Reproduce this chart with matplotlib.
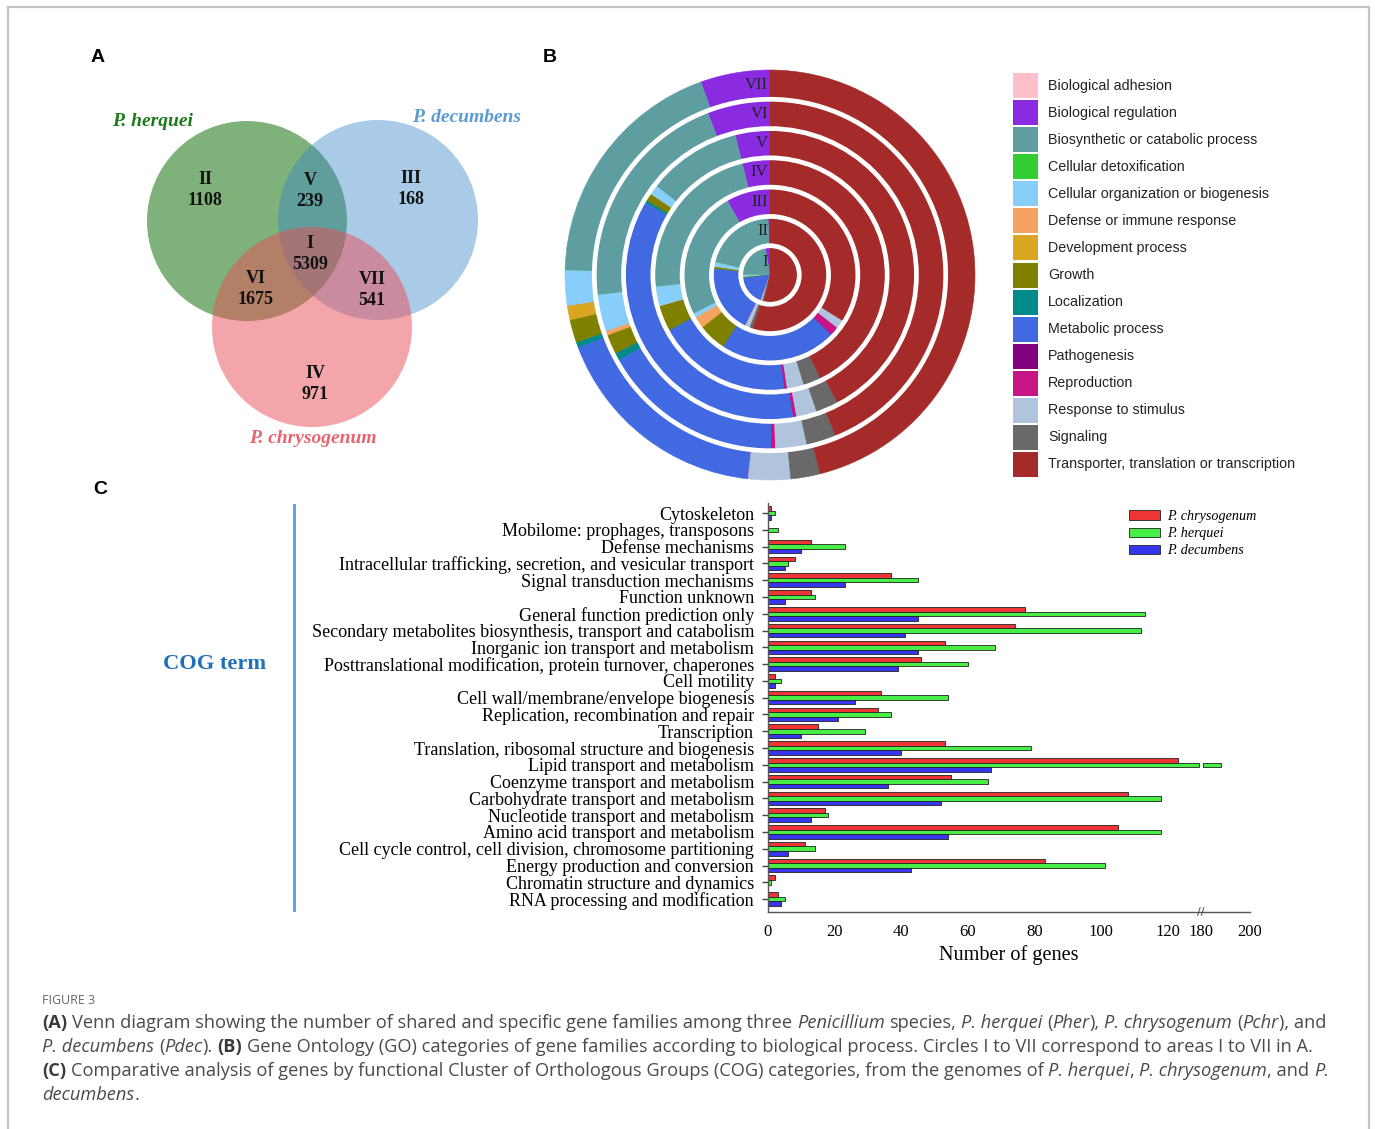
import numpy as np
import matplotlib
matplotlib.use("Agg")
import matplotlib.pyplot as plt
from matplotlib.patches import Circle, Rectangle, Patch
from matplotlib.lines import Line2D
from matplotlib.transforms import blended_transform_factory

# ---------------------------------------------------------
# data
# ---------------------------------------------------------
venn_names = ["P. herquei", "P. decumbens", "P. chrysogenum"]
region_ids = ["I", "II", "III", "IV", "V", "VI", "VII"]
region_counts = [5309, 1108, 168, 971, 239, 1675, 541]

go_terms = ["Biological adhesion", "Biological regulation", "Biosynthetic or catabolic process",
            "Cellular detoxification", "Cellular organization or biogenesis",
            "Defense or immune response", "Development process", "Growth", "Localization",
            "Metabolic process", "Pathogenesis", "Reproduction", "Response to stimulus",
            "Signaling", "Transporter, translation or transcription"]
go_colors = ["#ffc0cb", "#8a2be2", "#5f9ea0", "#32cd32", "#87cefa", "#f4a460", "#daa520",
             "#808000", "#008b8b", "#4169e1", "#800080", "#c71585", "#b0c4de", "#696969",
             "#a52a2a"]
# share of each GO term per circle (degrees of the ring), circles I..VII
ring_I = [0, 10, 80, 0, 5, 0, 0, 2, 0, 63, 0, 0, 4, 3, 193]
ring_II = [0, 2, 75, 0, 5, 0, 0, 2, 0, 70, 0, 0, 5, 3, 198]
ring_III = [0, 30, 87, 0, 3, 8, 0, 19, 0, 79, 0, 6, 6, 0, 122]
ring_IV = [0, 14, 82, 0, 10, 0, 0, 13, 0, 68.5, 0, 1.2, 8.5, 8.9, 153.9]
ring_V = [0, 14, 38, 0, 4, 0, 0, 3, 1, 129.5, 0, 1.2, 8.2, 9, 152.1]
ring_VI = [0, 21, 75.7, 0, 12.3, 1.5, 0, 6.5, 2.5, 61, 0, 1.3, 10.5, 9.9, 157.8]
ring_VII = [0, 19.7, 69, 0, 10, 0, 4, 6.5, 1.5, 63, 0, 0, 12, 8.3, 165.7]
rings = [ring_I, ring_II, ring_III, ring_IV, ring_V, ring_VI, ring_VII]

cog_terms = ["Cytoskeleton", "Mobilome: prophages, transposons", "Defense mechanisms",
             "Intracellular trafficking, secretion, and vesicular transport",
             "Signal transduction mechanisms", "Function unknown",
             "General function prediction only",
             "Secondary metabolites biosynthesis, transport and catabolism",
             "Inorganic ion transport and metabolism",
             "Posttranslational modification, protein turnover, chaperones",
             "Cell motility", "Cell wall/membrane/envelope biogenesis",
             "Replication, recombination and repair", "Transcription",
             "Translation, ribosomal structure and biogenesis",
             "Lipid transport and metabolism", "Coenzyme transport and metabolism",
             "Carbohydrate transport and metabolism", "Nucleotide transport and metabolism",
             "Amino acid transport and metabolism",
             "Cell cycle control, cell division, chromosome partitioning",
             "Energy production and conversion", "Chromatin structure and dynamics",
             "RNA processing and modification"]
chrysogenum = [1, 0, 13, 8, 37, 13, 77, 74, 53, 46, 2, 34, 33, 15, 53, 123, 55, 108, 17, 105, 11, 83, 2, 3]
herquei = [2, 3, 23, 6, 45, 14, 113, 112, 68, 60, 4, 54, 37, 29, 79, 188, 66, 118, 18, 118, 14, 101, 1, 5]
decumbens = [1, 0, 10, 5, 23, 5, 45, 41, 45, 39, 2, 26, 21, 10, 40, 67, 36, 52, 13, 54, 6, 43, 0, 4]
x_ticks = [0, 20, 40, 60, 80, 100, 120, 180, 200]

# ---------------------------------------------------------
# figure / helpers (pixel layout)
# ---------------------------------------------------------
W, H = 1375, 1129
fig = plt.figure(figsize=(W / 100, H / 100), dpi=100)
fig.patch.set_facecolor("white")
SERIF = "Liberation Serif"
SANS = "Liberation Sans"


def box(x0, y0, x1, y1):
    return [x0 / W, 1 - y1 / H, (x1 - x0) / W, (y1 - y0) / H]


def fpt(x, y):
    return x / W, 1 - y / H


# outer frame
for xs, ys in [([8, 8], [7, H]), ([8, 1369], [7, 7]), ([1369, 1369], [7, H])]:
    fig.add_artist(Line2D([v / W for v in xs], [1 - v / H for v in ys],
                          color="#c4c4c4", lw=1.6, transform=fig.transFigure))

# panel letters
for lab, (px, py) in zip("ABC", [(98, 57), (550, 57), (100, 490)]):
    fig.text(*fpt(px, py), lab, family=SANS, weight="bold", fontsize=14,
             ha="center", va="center")

# ---------------------------------------------------------
# A - Venn diagram
# ---------------------------------------------------------
axA = fig.add_axes(box(90, 90, 540, 460))
axA.set_xlim(90, 540)
axA.set_ylim(460, 90)
axA.axis("off")

circ_pos = [(247, 221), (378, 220), (312, 327)]
circ_col = [("#2a7f21", 0.6), ("#3483c8", 0.42), ("#e94d55", 0.5)]
for (cx, cy), (c, a) in zip(circ_pos, circ_col):
    axA.add_patch(Circle((cx, cy), 100, facecolor=c, alpha=a, edgecolor="none"))

name_pos = [(152, 121), (467, 118), (313, 438)]
name_col = ["#1c7a1c", "#5b9bd5", "#e8646e"]
for n, (px, py), c in zip(venn_names, name_pos, name_col):
    axA.text(px, py, n, family=SERIF, style="italic", weight="bold", fontsize=14,
             color=c, ha="center", va="center")

region_pos = [(310, 254), (205, 190), (411, 189), (315, 384), (310, 191), (256, 289), (372, 290)]
for rid, cnt, (px, py) in zip(region_ids, region_counts, region_pos):
    axA.text(px, py, f"{rid}\n{cnt}", family=SERIF, weight="bold", fontsize=13,
             ha="center", va="center", linespacing=1.25, color="#111")

# ---------------------------------------------------------
# B - GO rings
# ---------------------------------------------------------
axB = fig.add_axes(box(555, 60, 985, 490))
n_ring = len(rings)
for k, vals in enumerate(rings):
    r = (k + 1) / n_ring
    wedges, _ = axB.pie(vals, radius=r, colors=go_colors, startangle=90, counterclock=True,
                        wedgeprops=dict(width=r if k == 0 else 1 / n_ring))
    for w in wedges:
        w.set_edgecolor(w.get_facecolor())
        w.set_linewidth(0.4)
for k in range(1, n_ring):
    axB.add_patch(Circle((0, 0), k / n_ring, fill=False, edgecolor="white", lw=3.4, zorder=5))
for k, rid in enumerate(region_ids):
    yy = (k + 0.5) / n_ring if k else 0.065
    axB.text(-0.01, yy, rid, family=SERIF, fontsize=12, ha="right", va="center",
             color="#222", zorder=6)
lim = 215 / 205
axB.set_xlim(-lim, lim)
axB.set_ylim(-lim, lim)
axB.axis("off")

# legend of B
axL = fig.add_axes(box(1000, 65, 1320, 490))
axL.set_xlim(1000, 1320)
axL.set_ylim(490, 65)
axL.axis("off")
for i, (t, c) in enumerate(zip(go_terms, go_colors)):
    y0 = 73.3 + i * 27.03
    axL.add_patch(Rectangle((1012.7, y0), 25, 25, facecolor=c, edgecolor="none"))
    axL.text(1048, y0 + 12.5, t, family=SANS, fontsize=10.3, va="center", ha="left",
             color="#222")

# ---------------------------------------------------------
# C - COG bar chart with broken x axis
# ---------------------------------------------------------
def fwd(v):
    v = np.asarray(v, float)
    return np.where(v <= 126, v, np.where(v <= 180, 126 + (v - 126) * 4 / 54,
                                          130 + (v - 180) * 0.73))


def inv(u):
    u = np.asarray(u, float)
    return np.where(u <= 126, u, np.where(u <= 130, 126 + (u - 126) * 54 / 4,
                                          180 + (u - 130) / 0.73))


axC = fig.add_axes(box(768, 503, 1250, 912))
axC.set_xscale("function", functions=(fwd, inv))
y = np.arange(len(cog_terms))
bh = 0.27
gap_lo, gap_hi = 171.0, 180.7
red_c, green_c, blue_c = "#ee3434", "#46ee46", "#3636ee"
axC.barh(y - bh, chrysogenum, height=bh, color=red_c, edgecolor="#222", lw=0.6)
for yi, v in zip(y, herquei):
    if v > gap_hi:
        axC.barh(yi, gap_lo, height=bh, color=green_c, edgecolor="#222", lw=0.6)
        axC.barh(yi, v - gap_hi, left=gap_hi, height=bh, color=green_c, edgecolor="#222", lw=0.6)
    elif v > 0:
        axC.barh(yi, v, height=bh, color=green_c, edgecolor="#222", lw=0.6)
axC.barh(y + bh, decumbens, height=bh, color=blue_c, edgecolor="#222", lw=0.6)

axC.set_xlim(0, 200)
axC.set_ylim(len(cog_terms) - 0.23, -0.6)
axC.set_yticks(y)
axC.set_yticklabels(cog_terms, family=SERIF, fontsize=13)
axC.set_xticks(x_ticks)
axC.set_xticklabels([str(v) for v in x_ticks], family=SERIF, fontsize=12)
axC.tick_params(axis="y", length=4, width=1, color="#444", pad=6)
axC.tick_params(axis="x", length=0, pad=9)
for s in ["top", "right"]:
    axC.spines[s].set_visible(False)
for s in ["left", "bottom"]:
    axC.spines[s].set_color("#555")
    axC.spines[s].set_linewidth(1)
axC.set_xlabel("Number of genes", family=SERIF, fontsize=14.6, labelpad=3)
brk = blended_transform_factory(axC.transData, axC.transAxes)
axC.text(177, 0, "//", transform=brk, ha="center", va="center",
         fontsize=8, color="#444", clip_on=False)
axC.legend(handles=[Patch(facecolor=c, edgecolor="#222", lw=0.6) for c in (red_c, green_c, blue_c)],
           labels=["P. chrysogenum", "P. herquei", "P. decumbens"],
           loc="upper left", bbox_to_anchor=fpt(1129, 510), bbox_transform=fig.transFigure,
           frameon=False, prop=dict(family=SERIF, style="italic", size=10.2),
           handlelength=2.2, handleheight=0.65, labelspacing=0.3, handletextpad=0.5,
           borderpad=0, borderaxespad=0)

fig.text(*fpt(215, 664), "COG term", family=SERIF, weight="bold", fontsize=16.2,
         color="#1f70b8", ha="center", va="center")
fig.add_artist(Line2D([294 / W, 294 / W], [1 - 505 / H, 1 - 910 / H], color="#5b9bd5",
                      lw=2, transform=fig.transFigure))

# ---------------------------------------------------------
# caption (mixed styles laid out run by run)
# ---------------------------------------------------------
renderer = fig.canvas.get_renderer()
CAP = "Open Sans"


def style_kw(st, size):
    kw = dict(family=CAP, fontsize=size, color="#4a4a4a")
    if st == "b":
        kw.update(weight="bold", color="#3a3a3a")
    if st == "i":
        kw.update(style="italic")
    return kw


def text_w(s, kw):
    t = fig.text(0, 0, s, **kw)
    w = t.get_window_extent(renderer).width
    t.remove()
    return w


def lay_runs(x, yb, runs, size, draw=True):
    for s, st in runs:
        kw = style_kw(st, size)
        sw = text_w("a a", kw) - text_w("aa", kw)
        core = s.strip(" ")
        x += (len(s) - len(s.lstrip(" "))) * sw
        if core:
            if draw:
                t = fig.text(x / W, 1 - yb / H, core, va="baseline", ha="left", **kw)
                x += t.get_window_extent(renderer).width
            else:
                x += text_w(core, kw)
        x += (len(s) - len(s.rstrip(" "))) * sw
    return x


cap_lines = [
    [("(A)", "b"), (" Venn diagram showing the number of shared and specific gene families among three ", "r"),
     ("Penicillium", "i"), (" species, ", "r"), ("P. herquei", "i"), (" (", "r"), ("Pher", "i"),
     ("), ", "r"), ("P. chrysogenum", "i"), (" (", "r"), ("Pchr", "i"), ("), and", "r")],
    [("P. decumbens", "i"), (" (", "r"), ("Pdec", "i"), ("). ", "r"), ("(B)", "b"),
     (" Gene Ontology (GO) categories of gene families according to biological process. "
      "Circles I to VII correspond to areas I to VII in A.", "r")],
    [("(C)", "b"), (" Comparative analysis of genes by functional Cluster of Orthologous Groups (COG) "
                    "categories, from the genomes of ", "r"), ("P. herquei", "i"), (", ", "r"),
     ("P. chrysogenum", "i"), (", and ", "r"), ("P.", "i")],
    [("decumbens", "i"), (".", "r")],
]
w1 = lay_runs(42, 0, cap_lines[0], 12, draw=False) - 42
cap_size = 12 * 1280 / w1
fig.text(42 / W, 1 - 1004 / H, "FIGURE 3", family=CAP, fontsize=9, color="#666",
         va="baseline", ha="left")
for i, runs in enumerate(cap_lines):
    lay_runs(42, 1028 + i * 24, runs, cap_size)

fig.savefig("out.png", dpi=100, facecolor="white")
